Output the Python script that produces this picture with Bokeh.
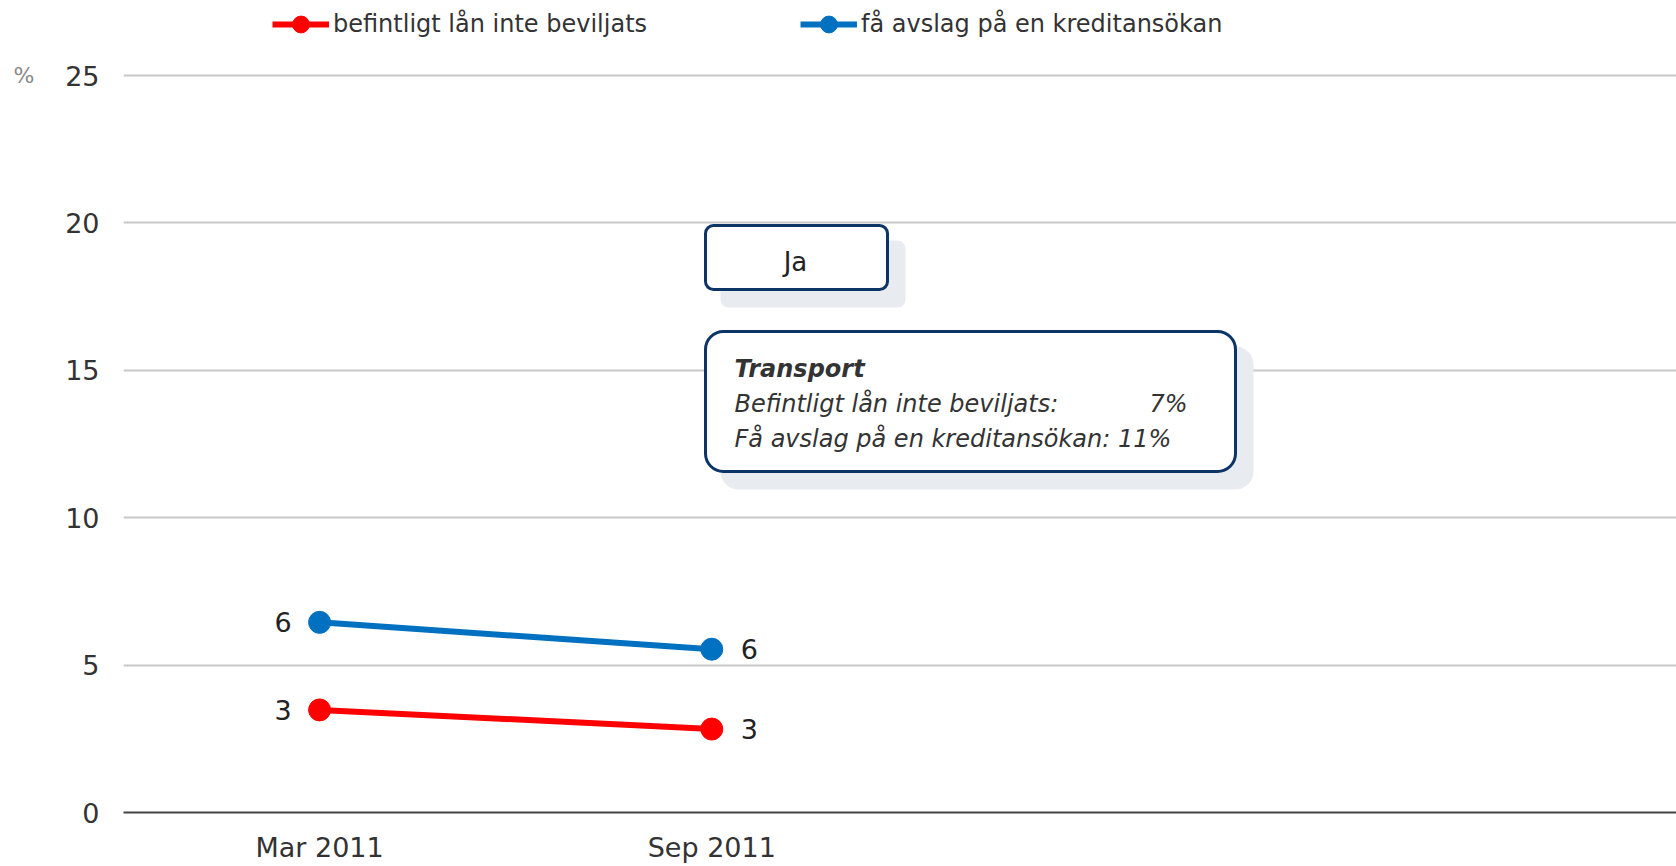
from bokeh.plotting import figure
from bokeh.models import (ColumnDataSource, Range1d, FixedTicker, Legend, LegendItem,
                          BoxAnnotation, Label, LinearAxis)
from bokeh.embed import file_html
from bokeh.resources import INLINE
from bokeh.core.properties import value

# ---- data ----
periods = ["Mar 2011", "Sep 2011"]
befintligt = [3.48, 2.83]     # befintligt lån inte beviljats (%)
avslag = [6.45, 5.54]         # få avslag på en kreditansökan (%)
y_ticks = [0, 5, 10, 15, 20, 25]
series_names = ["befintligt lån inte beviljats", "få avslag på en kreditansökan"]
series_colors = ["#FF0000", "#0070C0"]
unit_label = "%"
button_text = "Ja"
tooltip_title = "Transport"
tooltip_rows = ["Befintligt lån inte beviljats:", "Få avslag på en kreditansökan: 11%"]
tooltip_value1 = "7%"

FONT = "DejaVu Sans"
W, H = 1676, 866
X0, X1 = -0.5, 3.46
Y0, Y1 = 0, 27.545

p = figure(width=W, height=H, output_backend="svg", toolbar_location=None,
           x_range=Range1d(X0, X1), y_range=Range1d(Y0, Y1),
           min_border_left=123, min_border_right=0, min_border_top=0, min_border_bottom=54)
p.outline_line_color = None
p.background_fill_color = "white"
p.border_fill_color = "white"

# axes
p.xaxis.ticker = FixedTicker(ticks=list(range(len(periods))))
p.xaxis.major_label_overrides = {i: s for i, s in enumerate(periods)}
p.xaxis.axis_line_color = "#444444"
p.xaxis.axis_line_width = 2
p.xaxis.major_tick_line_color = None
p.xaxis.minor_tick_line_color = None
p.xaxis.major_label_text_font = FONT
p.xaxis.major_label_text_font_size = "27px"
p.xaxis.major_label_text_color = "#333333"
p.xaxis.major_label_standoff = 13

p.yaxis.ticker = FixedTicker(ticks=y_ticks)
p.yaxis.axis_line_color = None
p.yaxis.major_tick_line_color = None
p.yaxis.minor_tick_line_color = None
p.yaxis.major_label_text_font = FONT
p.yaxis.major_label_text_font_size = "27px"
p.yaxis.major_label_text_color = "#333333"
p.yaxis.major_label_standoff = 18

unit_axis = LinearAxis(ticker=FixedTicker(ticks=[y_ticks[-1]]),
                       major_label_overrides={y_ticks[-1]: unit_label},
                       axis_line_color=None, major_tick_line_color=None,
                       minor_tick_line_color=None, major_label_text_font=FONT,
                       major_label_text_font_size="22px", major_label_text_color="#8a8a8a",
                       major_label_standoff=22)
p.add_layout(unit_axis, "left")

p.xgrid.visible = False
p.ygrid.ticker = FixedTicker(ticks=y_ticks)
p.ygrid.grid_line_color = "#c8c8c8"
p.ygrid.grid_line_width = 2

# series
x = list(range(len(periods)))
items = []
for name, vals, col in zip(series_names, [befintligt, avslag], series_colors):
    src = ColumnDataSource(dict(x=x, y=vals))
    lr = p.line("x", "y", source=src, line_color=col, line_width=6)
    sr = p.scatter("x", "y", source=src, size=22, fill_color=col, line_color=col)
    first = ColumnDataSource(dict(x=x[:1], y=vals[:1], lab=[f"{v:.0f}" for v in vals[:1]]))
    last = ColumnDataSource(dict(x=x[-1:], y=vals[-1:], lab=[f"{v:.0f}" for v in vals[-1:]]))
    p.text("x", "y", text="lab", source=first, x_offset=-28, text_align="right",
           text_baseline="middle", text_font=value(FONT), text_font_size="27px",
           text_color="#222222")
    p.text("x", "y", text="lab", source=last, x_offset=29, text_align="left",
           text_baseline="middle", text_font=value(FONT), text_font_size="27px",
           text_color="#222222")
    items.append(LegendItem(label=name, renderers=[lr, sr]))

legend = Legend(items=items, orientation="horizontal", location=(149, 767),
                glyph_width=57, glyph_height=42, label_standoff=4, label_width=467,
                spacing=0, padding=0, margin=0, border_line_color=None,
                background_fill_alpha=0, label_text_font=FONT,
                label_text_font_size="24px", label_text_color="#333333")
p.add_layout(legend, "center")

# ---- decorations (pixel -> data helpers) ----
FL, FR = 123, W
PX_PER_Y = (812 - 75) / 25.0
def dx(px):
    return X0 + (px - FL) * (X1 - X0) / (FR - FL)
def dy(py):
    return (812 - py) / PX_PER_Y

NAVY = "#0c3466"
SHADOW = "#e8ecf0"

def card(l, r, t, b, radius):
    p.add_layout(BoxAnnotation(left=dx(l + 15), right=dx(r + 18), top=dy(t + 15),
                               bottom=dy(b + 18), fill_color=SHADOW, fill_alpha=1,
                               line_alpha=0, border_radius=radius))
    p.add_layout(BoxAnnotation(left=dx(l), right=dx(r), top=dy(t), bottom=dy(b),
                               fill_color="white", fill_alpha=1, line_color=NAVY,
                               line_alpha=1, line_width=3, border_radius=radius))

card(705, 887, 225, 289, 8)
card(705, 1235, 331, 471, 18)

p.add_layout(Label(x=dx(795), y=dy(261), text=button_text, text_align="center",
                   text_baseline="middle", text_font=FONT, text_font_size="26px",
                   text_color="#222222"))
p.add_layout(Label(x=dx(734), y=dy(368), text=tooltip_title, text_align="left",
                   text_baseline="middle", text_font=FONT, text_font_size="24px",
                   text_font_style="bold italic", text_color="#333333"))
p.add_layout(Label(x=dx(734), y=dy(403), text=tooltip_rows[0], text_align="left",
                   text_baseline="middle", text_font=FONT, text_font_size="24px",
                   text_font_style="italic", text_color="#333333"))
p.add_layout(Label(x=dx(1187), y=dy(403), text=tooltip_value1, text_align="right",
                   text_baseline="middle", text_font=FONT, text_font_size="24px",
                   text_font_style="italic", text_color="#333333"))
p.add_layout(Label(x=dx(734), y=dy(438), text=tooltip_rows[1], text_align="left",
                   text_baseline="middle", text_font=FONT, text_font_size="24px",
                   text_font_style="italic", text_color="#333333"))

open("out.html", "w").write(file_html(p, INLINE))
